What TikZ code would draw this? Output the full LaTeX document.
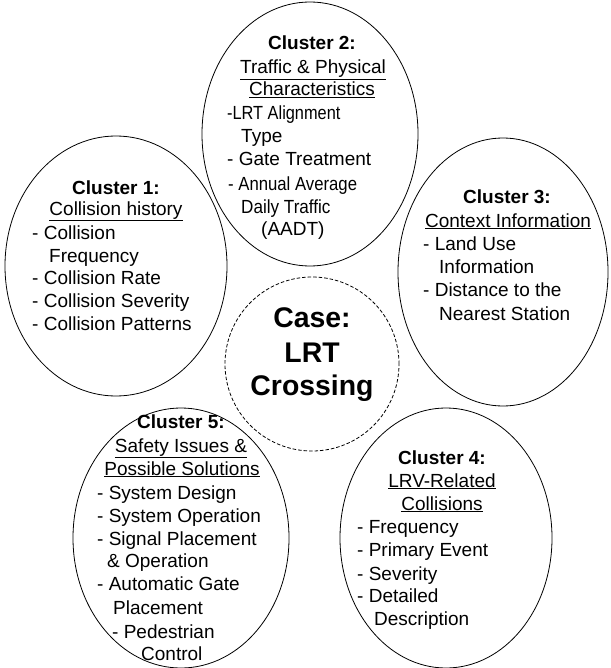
\documentclass[tikz,border=0pt]{standalone}
\usepackage{fontspec}
\setmainfont{Liberation Sans}
\usetikzlibrary{shapes.geometric}
\tikzset{
  cl/.style={draw=black, line width=0.8pt, ellipse, inner sep=0pt},
  core/.style={draw=black, line width=0.8pt, circle, inner sep=0pt, dash pattern=on 3.5pt off 2pt},
  itm/.style={inner sep=0pt, anchor=base west, font=\fontsize{19}{23}\selectfont},
  ttl/.style={inner sep=0pt, anchor=base, font=\fontsize{19}{23}\selectfont\bfseries},
  sub/.style={inner sep=0pt, anchor=base, font=\fontsize{19}{23}\selectfont},
  big/.style={inner sep=0pt, anchor=base, font=\fontsize{28.4}{34}\selectfont\bfseries}
}
\begin{document}
\begin{tikzpicture}[x=1pt,y=-1pt]
\useasboundingbox (0,0) rectangle (610,668);
% ellipses
\node[cl, minimum width=216pt, minimum height=264pt] (c2) at (310,134) {};
\node[cl, minimum width=222pt, minimum height=260pt] (c1) at (116,266) {};
\node[cl, minimum width=210pt, minimum height=268pt] (c3) at (503,272) {};
\node[core, minimum size=174pt] (cc) at (312,364) {};
\node[cl, minimum width=216pt, minimum height=260pt] (c5) at (181,538) {};
\node[cl, minimum width=212pt, minimum height=260pt] (c4) at (446,538) {};
% centre
\node[big] (ca) at (312,327) {Case:};
\node[big] (cb) at (312,362) {LRT};
\node[big] (cd) at (312,395) {Crossing};
% cluster 2
\node[ttl] (t2) at (312,50) {Cluster 2:};
\node[sub] (s2a) at (313,74) {\underline{Traffic \& Physical}};
\node[sub] (s2b) at (312,96) {\underline{Characteristics}};
\node[itm] (i2a) at (227,120) {\scalebox{0.86}[1]{-LRT Alignment}};
\node[itm] (i2b) at (241,143) {Type};
\node[itm] (i2c) at (227,166) {- Gate Treatment};
\node[itm] (i2d) at (228,190) {\scalebox{0.88}[1]{- Annual Average}};
\node[itm] (i2e) at (241,213) {\scalebox{0.9}[1]{Daily Traffic}};
\node[itm] (i2f) at (261,235) {(AADT)};
% cluster 1
\node[ttl] (t1) at (116,194) {Cluster 1:};
\node[sub] (s1a) at (116,215) {\underline{Collision history}};
\node[itm] (i1a) at (32,239) {- Collision};
\node[itm] (i1b) at (49,262) {Frequency};
\node[itm] (i1c) at (32,284) {- Collision Rate};
\node[itm] (i1d) at (32,307) {- Collision Severity};
\node[itm] (i1e) at (32,330) {- Collision Patterns};
% cluster 3
\node[ttl] (t3) at (507,204) {Cluster 3:};
\node[sub] (s3a) at (508,227) {\underline{Context Information}};
\node[itm] (i3a) at (423,250) {- Land Use};
\node[itm] (i3b) at (439,273) {Information};
\node[itm] (i3c) at (423,296) {- Distance to the};
\node[itm] (i3d) at (439,320) {Nearest Station};
% cluster 5
\node[ttl] (t5) at (181,428) {Cluster 5:};
\node[sub] (s5a) at (181,452) {\underline{Safety Issues \&}};
\node[sub] (s5b) at (182,475) {\underline{Possible Solutions}};
\node[itm] (i5a) at (97,499) {- System Design};
\node[itm] (i5b) at (97,522) {- System Operation};
\node[itm] (i5c) at (97,545) {- Signal Placement};
\node[itm] (i5d) at (107,567) {\& Operation};
\node[itm] (i5e) at (97,590) {- Automatic Gate};
\node[itm] (i5f) at (113,614) {Placement};
\node[itm] (i5g) at (112,638) {- Pedestrian};
\node[itm] (i5h) at (141,660) {Control};
% cluster 4
\node[ttl] (t4) at (442,464) {Cluster 4:};
\node[sub] (s4a) at (442,487) {\underline{LRV-Related}};
\node[sub] (s4b) at (442,510) {\underline{Collisions}};
\node[itm] (i4a) at (357,533) {- Frequency};
\node[itm] (i4b) at (357,556) {- Primary Event};
\node[itm] (i4c) at (357,580) {- Severity};
\node[itm] (i4d) at (357,602) {- Detailed};
\node[itm] (i4e) at (374,625) {Description};
\end{tikzpicture}
\end{document}
